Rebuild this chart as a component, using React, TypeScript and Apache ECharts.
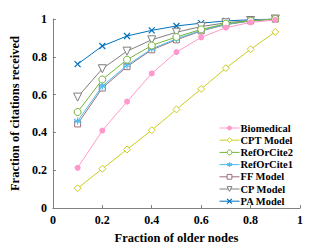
import React, { useEffect, useRef } from "react";
import * as echarts from "echarts";

const xValues = [0.1, 0.2, 0.3, 0.4, 0.5, 0.6, 0.7, 0.8, 0.9];
const seriesNames = ["Biomedical", "CPT Model", "RefOrCite2", "RefOrCite1", "FF Model", "CP Model", "PA Model"];
const biomedical = [0.213, 0.41, 0.563, 0.712, 0.825, 0.903, 0.954, 0.982, 0.995];
const cptModel = [0.105, 0.208, 0.31, 0.412, 0.522, 0.63, 0.74, 0.84, 0.932];
const refOrCite2 = [0.508, 0.68, 0.785, 0.86, 0.905, 0.945, 0.975, 0.99, 1.0];
const refOrCite1 = [0.46, 0.645, 0.755, 0.842, 0.895, 0.94, 0.972, 0.99, 1.0];
const ffModel = [0.445, 0.635, 0.748, 0.837, 0.89, 0.937, 0.97, 0.99, 1.0];
const cpModel = [0.587, 0.737, 0.83, 0.89, 0.93, 0.96, 0.98, 0.992, 1.0];
const paModel = [0.761, 0.857, 0.91, 0.94, 0.963, 0.978, 0.99, 0.996, 1.0];
const xTicks = [0, 0.2, 0.4, 0.6, 0.8, 1];
const yTicks = [0, 0.2, 0.4, 0.6, 0.8, 1];

const colors = ["#FF99CC", "#CCCC22", "#77B43A", "#4DBEEE", "#A0707A", "#7F7F7F", "#0072BD"];
const symbols = [
  "circle",
  "diamond",
  "circle",
  "path://M0,-5L0,5M-4.3,-2.5L4.3,2.5M-4.3,2.5L4.3,-2.5",
  "rect",
  "path://M-5,-4L5,-4L0,5Z",
  "path://M-4,-4L4,4M-4,4L4,-4",
];
const filled = [true, false, false, true, false, false, true];
const sizes = [6, 7, 7, 7, 6, 8, 6];
const allData = [biomedical, cptModel, refOrCite2, refOrCite1, ffModel, cpModel, paModel];

const font = "'Liberation Serif', 'Times New Roman', serif";

export default function App() {
  const ref = useRef<HTMLDivElement>(null);
  useEffect(() => {
    if (!ref.current) return;
    const chart = echarts.init(ref.current, null, { renderer: "svg" });
    const styleFor = (i: number) => {
      const c = colors[i];
      const isPath = symbols[i].startsWith("path://") && i !== 5;
      return isPath
        ? { color: c, borderColor: c, borderWidth: 1.2 }
        : filled[i]
        ? { color: c, borderColor: c, borderWidth: 0 }
        : { color: "#fff", borderColor: c, borderWidth: 1 };
    };
    const series = seriesNames.map((name, i) => ({
      name,
      type: "line",
      data: allData[i].map((v, j) => [xValues[j], v]),
      symbol: symbols[i],
      symbolSize: sizes[i],
      lineStyle: { color: colors[i], width: 1 },
      itemStyle: styleFor(i),
      z: 2 + (6 - i),
    }));
    chart.setOption({
      animation: false,
      grid: { left: 43, right: 32, top: 19, bottom: 33, containLabel: false },
      legend: {
        orient: "vertical",
        left: 219,
        top: 122,
        itemWidth: 20,
        itemHeight: 6,
        itemGap: 0.2,
        padding: 0,
        textStyle: {
          fontFamily: font,
          fontWeight: "bold",
          fontSize: 10.5,
          lineHeight: 12,
          color: "#000",
          padding: [0, 0, 0, -4],
        },
        data: seriesNames.map((name, i) => ({ name, itemStyle: styleFor(i), lineStyle: { color: colors[i], width: 1 } })),
      },
      xAxis: {
        type: "value",
        min: 0,
        max: 1,
        interval: 0.2,
        name: "Fraction of older nodes",
        nameLocation: "middle",
        nameGap: 21,
        nameTextStyle: { fontFamily: font, fontWeight: "bold", fontSize: 12.5, color: "#000" },
        axisLine: { lineStyle: { color: "#808080" } },
        axisTick: { inside: true, length: 3, lineStyle: { color: "#808080" } },
        axisLabel: {
          fontFamily: font,
          fontWeight: "bold",
          fontSize: 12,
          color: "#000",
          margin: 6,
          formatter: (v: number) => (xTicks.includes(v) ? String(v) : ""),
        },
        splitLine: { show: false },
      },
      yAxis: {
        type: "value",
        min: 0,
        max: 1,
        interval: 0.2,
        name: "Fraction of citations received",
        nameLocation: "middle",
        nameGap: 26,
        nameTextStyle: { fontFamily: font, fontWeight: "bold", fontSize: 12.5, color: "#000" },
        axisLine: { show: true, lineStyle: { color: "#808080" } },
        axisTick: { show: true, inside: true, length: 3, lineStyle: { color: "#808080" } },
        axisLabel: {
          fontFamily: font,
          fontWeight: "bold",
          fontSize: 12,
          color: "#000",
          margin: 6,
          formatter: (v: number) => (yTicks.includes(v) ? String(v) : ""),
        },
        splitLine: { show: false },
      },
      series,
    });
    return () => chart.dispose();
  }, []);
  return <div ref={ref} style={{ width: 332, height: 249, position: "absolute", left: 0, top: 0, background: "#fff" }} />;
}
